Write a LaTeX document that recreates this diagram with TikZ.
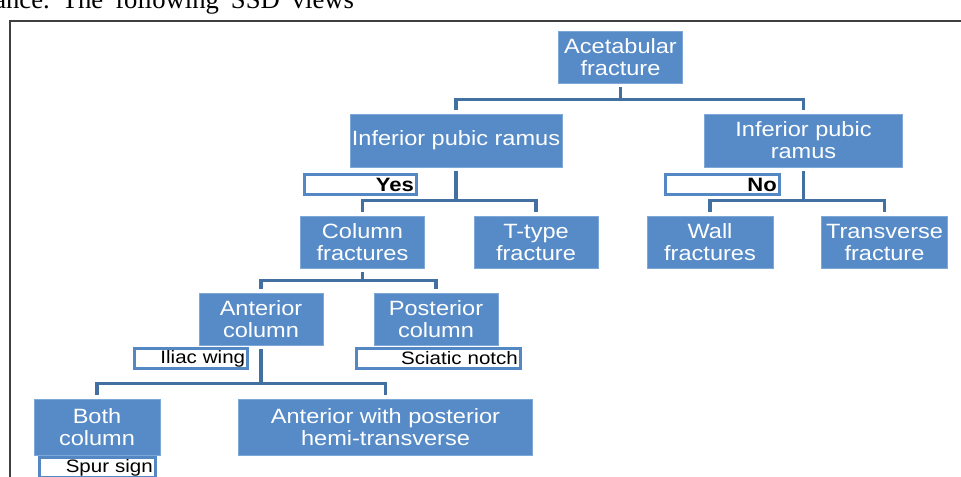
\documentclass[tikz,border=0pt]{standalone}
\usepackage{fontspec}
\setmainfont{Liberation Serif}
\newfontfamily\boxfont[FakeStretch=1.14]{Liberation Sans}
\definecolor{boxblue}{RGB}{86,139,199}
\definecolor{boxedge}{RGB}{125,168,216}
\definecolor{linkblue}{RGB}{66,112,160}
\definecolor{tagblue}{RGB}{84,136,196}
\definecolor{framegray}{RGB}{64,64,64}

\begin{document}
\begin{tikzpicture}[x=0.75pt, y=-0.75pt,
        stage/.style={rectangle, fill=boxblue, draw=boxedge, line width=0.6pt, text=white, align=center, inner sep=1pt, minimum width=93pt, minimum height=39pt, font=\boxfont\fontsize{15.5}{16.5}\selectfont},
        tag/.style={rectangle, draw=tagblue, line width=2.2pt, fill=white, anchor=north west, align=right, inner xsep=2pt, inner ysep=0pt, minimum height=15pt, font=\boxfont\fontsize{13.5}{14}\selectfont},
        link/.style={draw=linkblue, line width=2.3pt},
        stem/.style={link, shorten <=3pt},
        fork/.style={link, shorten <=3pt, shorten >=3pt}
    ]
        \useasboundingbox (0,0) rectangle (961,476);

        % Page text and frame
        \node[anchor=base west, inner sep=0pt, font=\fontsize{20}{22}\selectfont] (pagetext) at (-6,8) {ance.\hspace{9pt}The\hspace{9pt}following\hspace{9pt}SSD\hspace{9pt}views};
        \draw[framegray, line width=1.6pt] (10,1000) -- (10,21) -- (1000,21);

        % Boxes
        \node[stage] (acet) at (620.5,57) {Acetabular\\fracture};
        \node[stage, minimum width=159pt, minimum height=39.75pt] (iprA) at (456,140.5) {Inferior pubic ramus};
        \node[stage, minimum width=149pt, minimum height=39.75pt] (iprB) at (803.5,140.5) {Inferior pubic\\ramus};
        \node[stage] (colf) at (362.5,242) {Column\\fractures};
        \node[stage] (ttype) at (536,242) {T-type\\fracture};
        \node[stage, minimum width=94.5pt] (wall) at (710,242) {Wall\\fractures};
        \node[stage, minimum width=94pt] (trans) at (884.5,242) {Transverse\\fracture};
        \node[stage] (antc) at (261,319) {Anterior\\column};
        \node[stage] (postc) at (436,319) {Posterior\\column};
        \node[stage, minimum width=94.5pt, minimum height=42pt] (bothc) at (97,427) {Both\\column};
        \node[stage, minimum width=221pt, minimum height=42pt] (antpost) at (385.5,427) {Anterior with posterior\\hemi-transverse};

        % Tags
        \node[tag, text width=80pt, font=\boxfont\fontsize{14.5}{15}\selectfont\bfseries] (yes) at (303,173) {Yes};
        \node[tag, text width=81.5pt, font=\boxfont\fontsize{14.5}{15}\selectfont\bfseries] (no) at (664,173) {No};
        \node[tag, text width=81pt] (iliac) at (133,347) {Iliac wing};
        \node[tag, text width=119pt] (sciatic) at (355,347) {Sciatic notch};
        \node[tag, text width=83pt] (spur) at (38,456) {Spur sign};

        % Links
        \draw[stem] (acet.south) -- ++(0,16) coordinate (busA);
        \draw[fork] (iprA.north) |- (busA) -| (iprB.north);
        \draw[stem] (iprA.south) -- ++(0,33) coordinate (busB);
        \draw[fork] (colf.north) |- (busB) -| (ttype.north);
        \draw[stem] (iprB.south) -- ++(0,33) coordinate (busC);
        \draw[fork] (wall.north) |- (busC) -| (trans.north);
        \draw[stem] (colf.south) -- ++(0,12) coordinate (busD);
        \draw[fork] (antc.north) |- (busD) -| (postc.north);
        \draw[stem] (antc.south) -- ++(0,38) coordinate (busE);
        \draw[fork] (bothc.north) |- (busE) -| (antpost.north);
    \end{tikzpicture}
\end{document}
